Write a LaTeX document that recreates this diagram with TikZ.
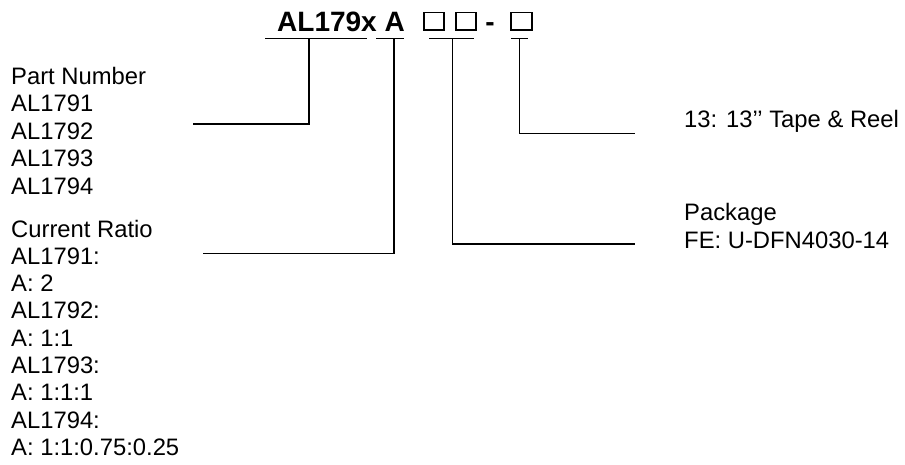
\documentclass[tikz,border=0pt]{standalone}
\usepackage{fontspec}
\setmainfont{Liberation Sans}
\newfontfamily\ttlfont{Liberation Sans Bold}
\begin{document}
\begin{tikzpicture}[x=1pt,y=-1pt,
  lbl/.style={anchor=base west,inner sep=0pt,font=\fontsize{23.8}{27.5}\selectfont},
  ttl/.style={anchor=base west,inner sep=0pt,font=\ttlfont\fontsize{28}{32}\selectfont},
  slot/.style={draw,line width=1.1pt,minimum width=20pt,minimum height=17.5pt,inner sep=0pt},
  wire/.style={line width=1.6pt,line cap=butt}]
\useasboundingbox (0,0) rectangle (905,464);
% title
\node[ttl] (title) at (277,31.7) {AL179x A};
\node[slot] (b1) at (434,21.2) {};
\node[slot] (b2) at (466,21.2) {};
\node[ttl,anchor=base] (dash) at (490,31.7) {-};
\node[slot,minimum width=21pt] (b3) at (521.5,21.2) {};
% underline coordinates
\coordinate (u1a) at (265,38.3); \coordinate (u1b) at (367,38.3); \coordinate (u1m) at (309,38.3);
\coordinate (u2a) at (376,38.3); \coordinate (u2b) at (404,38.3); \coordinate (u2m) at (394,38.3);
\coordinate (u3a) at (429,38.3); \coordinate (u3b) at (474,38.3); \coordinate (u3m) at (452.5,38.3);
\coordinate (u4a) at (511,38.3); \coordinate (u4b) at (528,38.3); \coordinate (u4m) at (519.3,38.3);
\coordinate (e1) at (193,123.8);
\coordinate (e2) at (203,253.5);
\coordinate (e3) at (635,244);
\coordinate (e4) at (635,133.3);
% left block: part number
\node[lbl] (pn0) at (11,84) {Part Number};
\node[lbl] (pn1) at (11,111.5) {AL1791};
\node[lbl] (pn2) at (11,139) {AL1792};
\node[lbl] (pn3) at (11,166.5) {AL1793};
\node[lbl] (pn4) at (11,194) {AL1794};
% left block: current ratio
\node[lbl] (cr0) at (11,237) {Current Ratio};
\node[lbl] (cr1) at (11,264.3) {AL1791:};
\node[lbl] (cr2) at (11,291.6) {A: 2};
\node[lbl] (cr3) at (11,318.9) {AL1792:};
\node[lbl] (cr4) at (11,346.2) {A: 1:1};
\node[lbl] (cr5) at (11,373.5) {AL1793:};
\node[lbl] (cr6) at (11,400.8) {A: 1:1:1};
\node[lbl] (cr7) at (11,428.1) {AL1794:};
\node[lbl] (cr8) at (11,455.4) {A: 1:1:0.75:0.25};
% right labels
\node[lbl] (tr) at (684,127) {13: 13'{}' Tape \& Reel};
\node[lbl] (pk0) at (684,220.5) {Package};
\node[lbl] (pk1) at (684,248) {FE: U-DFN4030-14};
% connectors
\draw[wire] (u1a) -- (u1b);
\draw[wire] (u2a) -- (u2b);
\draw[wire] (u3a) -- (u3b);
\draw[wire] (u4a) -- (u4b);
\draw[wire] (u1m) |- (e1);
\draw[wire] (u2m) |- (e2);
\draw[wire] (u3m) |- (e3);
\draw[wire] (u4m) |- (e4);
\end{tikzpicture}
\end{document}
